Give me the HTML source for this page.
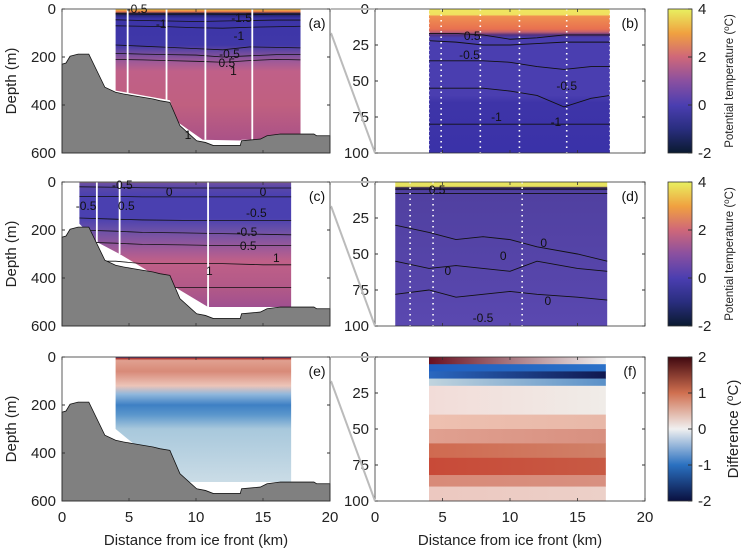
<!DOCTYPE html>
<html><head><meta charset="utf-8">
<style>
html,body{margin:0;padding:0;background:#fff;}
svg{display:block;font-family:"Liberation Sans",Arial,sans-serif;}
</style></head>
<body>
<svg id="fig" width="749" height="551" viewBox="0 0 749 551" xmlns="http://www.w3.org/2000/svg">
<defs>
<linearGradient id="cbT" x1="0" y1="1" x2="0" y2="0">
<stop offset="0" stop-color="#0a1a30"/><stop offset="0.17" stop-color="#2a2e80"/><stop offset="0.33" stop-color="#4a3eb0"/>
<stop offset="0.5" stop-color="#8a50a0"/><stop offset="0.67" stop-color="#d06878"/><stop offset="0.83" stop-color="#f0a040"/><stop offset="1" stop-color="#e8f060"/>
</linearGradient>
<linearGradient id="cbD" x1="0" y1="1" x2="0" y2="0">
<stop offset="0" stop-color="#0a1040"/><stop offset="0.25" stop-color="#2a70c0"/><stop offset="0.5" stop-color="#f0f0f0"/>
<stop offset="0.75" stop-color="#d07050"/><stop offset="1" stop-color="#400810"/>
</linearGradient>
</defs>
</svg>
<script>
// ---- data ----
const bathyKm = [0,0.3,0.6,1.2,2.0,3.2,4.0,4.6,5.3,6.8,7.3,8.05,8.8,10.05,10.7,11.3,13.3,13.4,14.8,15.3,16.3,18.8,19.0,20];
const bathyDepth = [230,225,197,188,188,326,347,354,361,375,382,389,486,549,556,569,569,549,542,528,521,521,528,528];
const profA = [[0,'#f0e060'],[6,'#f0a040'],[12,'#e07050'],[18,'#202040'],[28,'#2a2880'],[40,'#3c34a8'],[150,'#4038a8'],[180,'#6a4aa0'],[220,'#a05a98'],[260,'#c06088'],[400,'#c06080'],[560,'#a85088']];
const profC = [[0,'#d0d070'],[4,'#7050a0'],[20,'#5a48a8'],[60,'#4a40b0'],[150,'#4a40b0'],[200,'#6a50a8'],[280,'#a05a98'],[330,'#c06088'],[450,'#b05888'],[520,'#a05090']];
const profE = [[0,'#2040a0'],[6,'#b03028'],[14,'#e0a090'],[60,'#d88a78'],[120,'#ecc4b8'],[155,'#90b8dc'],[200,'#3e80c4'],[240,'#5a96cc'],[300,'#a8c8dc'],[520,'#cadce6']];
const profB = [[0,'#f0e860'],[4,'#f0e060'],[5,'#f09050'],[14,'#e87050'],[16,'#c06070'],[18,'#503080'],[20,'#4a3eb0'],[60,'#4a3eb0'],[65,'#3e34a8'],[100,'#3a32a8']];
const profD = [[0,'#e8e860'],[3,'#e8e060'],[4,'#302050'],[6,'#5040a0'],[100,'#5a48b0']];
const rowsF = [[0,5,'#6a1020','#f0f0f0'],[5,10,'#2060c0','#2a70c8'],[10,15,'#2a68c0','#101850'],[15,20,'#c0d4de','#5a90c8'],[20,40,'#f2dcd8','#f0ece8'],[40,50,'#eec0b0','#e8b8a8'],[50,60,'#e0a090','#d89080'],[60,70,'#d06a50','#d08068'],[70,82,'#c84a38','#c85a44'],[82,90,'#d88a78','#d89080'],[90,100,'#ecc8c0','#ecd0c8']];
const ticksKm = [0,5,10,15,20];
const ticksDepthL = [0,200,400,600];
const ticksDepthR = [0,25,50,75,100];
const castsA = [4.9,7.8,10.7,14.2];
const castsC = [2.6,4.3,10.9];
const contX = [4,6,8,10,12,14,16,17.8];
const contA = [[20,22,22,21,22,24,22,22],[45,48,50,52,50,48,46,46],[70,72,74,78,80,76,74,72],[150,155,160,165,170,158,160,162],[185,188,190,192,200,195,190,190],[210,212,215,218,222,215,210,212]];
const contXR = [4,6,8,10,12,14,16,17.4];
const contB = [[17,17,18,21,20,18,18,18],[22,23,25,25,24,23,23,23],[36,36,36,37,40,42,40,40],[55,55,55,57,60,68,62,60],[80,80,80,80,80,80,80,80]];
const contD = [[5,5,5,5,5,5,5,5],[8,8,8,8,8,8,8,8],[30,35,40,38,40,45,50,55],[55,60,58,60,62,55,60,62],[78,75,80,78,76,78,80,82]];

const NS='http://www.w3.org/2000/svg';
const svg=document.getElementById('fig');
const defs=svg.querySelector('defs');
function mk(tag,attrs,parent){const e=document.createElementNS(NS,tag);for(const k in attrs)e.setAttribute(k,attrs[k]);(parent||svg).appendChild(e);return e;}
const XL=km=>62+km*13.4, XR=km=>375+km*13.5;
const tops=[9,182,357], H=144;
const YL=(p,d)=>tops[p]+d/600*H, YR=(p,d)=>tops[p]+d/100*H;
const FS=15;

function vgrad(id,prof,p,Y){const g=mk('linearGradient',{id:id,gradientUnits:'userSpaceOnUse',x1:0,x2:0,y1:Y(p,0),y2:Y(p,prof[prof.length-1][0])},defs);
 const last=prof[prof.length-1][0];prof.forEach(s=>mk('stop',{offset:s[0]/last,'stop-color':s[1]},g));}
vgrad('gA',profA,0,YL);vgrad('gC',profC,1,YL);vgrad('gE',profE,2,YL);
vgrad('gB',profB,0,YR);vgrad('gD',profD,1,YR);

function bathyPath(p){let d='M'+XL(0)+','+YL(p,600);bathyKm.forEach((k,i)=>{d+=' L'+XL(k)+','+YL(p,bathyDepth[i]);});d+=' L'+XL(20)+','+YL(p,600)+' Z';return d;}

let a=mk('path',{d:`M${XL(4)},${YL(0,0)} L${XL(17.8)},${YL(0,0)} L${XL(17.8)},${YL(0,545)} L${XL(13.4)},${YL(0,545)} L${XL(13.3)},${YL(0,548)} L${XL(10.5)},${YL(0,545)} L${XL(8.6)},${YL(0,470)} L${XL(8.05)},${YL(0,380)} L${XL(4)},${YL(0,340)} Z`,fill:'url(#gA)'});

let c=mk('path',{d:`M${XL(1.3)},${YL(1,0)} L${XL(17.1)},${YL(1,0)} L${XL(17.1)},${YL(1,521)} L${XL(10.9)},${YL(1,521)} L${XL(4.3)},${YL(1,300)} L${XL(2.6)},${YL(1,250)} L${XL(1.3)},${YL(1,174)} Z`,fill:'url(#gC)'});

let e=mk('path',{d:`M${XL(4)},${YL(2,0)} L${XL(17.1)},${YL(2,0)} L${XL(17.1)},${YL(2,521)} L${XL(8.8)},${YL(2,521)} L${XL(4)},${YL(2,300)} Z`,fill:'url(#gE)'});


function poly(xs,ds,X,Y,p){return xs.map((x,i)=>(i?'L':'M')+X(x)+','+Y(p,ds[i])).join(' ');}
contA.forEach(ds=>{const l=mk('path',{d:poly(contX,ds,XL,YL,0),fill:'none',stroke:'#111','stroke-width':0.8});});
const contC=[[20,22,24,25,25,25,25],[60,60,62,62,62,62,62],[150,155,158,160,160,160,160],[200,205,210,212,215,218,220],[250,255,260,262,265,265,265],[330,330,340,340,340,345,345],[430,430,440,440,440,440,440]];
const cxC=[1.3,4,6,9,12,15,17.1];
contC.forEach(ds=>{const l=mk('path',{d:poly(cxC,ds,XL,YL,1),fill:'none',stroke:'#111','stroke-width':0.8});});

castsA.forEach(k=>{const l=mk('line',{x1:XL(k),x2:XL(k),y1:YL(0,0),y2:YL(0,545),stroke:'#fff','stroke-width':1.8});});
const cEnd=[250,300,521];
castsC.forEach((k,i)=>{const l=mk('line',{x1:XL(k),x2:XL(k),y1:YL(1,0),y2:YL(1,cEnd[i]),stroke:'#fff','stroke-width':1.8});});

[0,1,2].forEach(p=>{const b=mk('path',{d:bathyPath(p),fill:'#808080',stroke:'#111','stroke-width':0.8});});

let b=mk('rect',{x:XR(4),y:YR(0,0),width:XR(17.4)-XR(4),height:H,fill:'url(#gB)'});

contB.forEach(ds=>{const l=mk('path',{d:poly(contXR,ds,XR,YR,0),fill:'none',stroke:'#111','stroke-width':0.9});});
let d=mk('rect',{x:XR(1.5),y:YR(1,0),width:XR(17.2)-XR(1.5),height:H,fill:'url(#gD)'});

const cxD=[1.5,4,6,8,10,12,15,17.2];
contD.forEach(ds=>{const l=mk('path',{d:poly(cxD,ds,XR,YR,1),fill:'none',stroke:'#111','stroke-width':0.9});});
rowsF.forEach((r,i)=>{const g=mk('linearGradient',{id:'gf'+i,x1:0,x2:1,y1:0,y2:0},defs);
 mk('stop',{offset:0,'stop-color':r[2]},g);mk('stop',{offset:1,'stop-color':r[3]},g);
 const rr=mk('rect',{x:XR(4),y:YR(2,r[0]),width:XR(17.1)-XR(4),height:YR(2,r[1])-YR(2,r[0])+0.3,fill:'url(#gf'+i+')'});
 });
castsA.forEach(k=>{const l=mk('line',{x1:XR(k),x2:XR(k),y1:YR(0,0),y2:YR(0,100),stroke:'#fff','stroke-width':1.6,'stroke-dasharray':'1.5,4'});});
[XR(4),XR(17.4)].forEach(x=>mk('line',{x1:x,x2:x,y1:YR(0,0),y2:YR(0,100),stroke:'#fff','stroke-width':1,'stroke-dasharray':'1.5,3'}));
castsC.forEach(k=>{const l=mk('line',{x1:XR(k),x2:XR(k),y1:YR(1,0),y2:YR(1,100),stroke:'#fff','stroke-width':1.6,'stroke-dasharray':'1.5,4'});});

const labs=[[0,XL(5.6),13,'-0.5'],[0,XL(7.4),28,'-1'],[0,XL(13.4),22,'-1.5'],[0,XL(13.2),40,'-1'],[0,XL(12.5),58,'-0.5'],[0,XL(12.3),67,'0.5'],[0,XL(12.8),75,'1'],[0,XL(9.4),139,'1'],
 [1,XL(4.5),189,'-0.5'],[1,XL(8),196,'0'],[1,XL(15),196,'0'],[1,XL(1.8),210,'-0.5'],[1,XL(4.8),210,'0.5'],[1,XL(14.5),217,'-0.5'],[1,XL(13.8),236,'-0.5'],[1,XL(13.9),250,'0.5'],[1,XL(16),262,'1'],[1,XL(11),275,'1'],
 [0,XR(7.2),40,'0.5'],[0,XR(7),59,'-0.5'],[0,XR(14.2),90,'-0.5'],[0,XR(9),121,'-1'],[0,XR(13.4),126,'-1'],
 [1,XR(4.6),194,'0.5'],[1,XR(12.5),247,'0'],[1,XR(9.5),260,'0'],[1,XR(5.4),275,'0'],[1,XR(12.8),305,'0'],[1,XR(8),322,'-0.5']];
labs.forEach(l=>{const t=mk('text',{x:l[1],y:l[2],'font-size':12,fill:'#111','text-anchor':'middle'});t.textContent=l[3];});

const tags=[['(a)','(b)'],['(c)','(d)'],['(e)','(f)']];
for(let p=0;p<3;p++){
 const t=tops[p];
 const ax=mk('rect',{x:62,y:t,width:268,height:H,fill:'none',stroke:'#333','stroke-width':0.8});
 
 const ax2=mk('rect',{x:375,y:t,width:270,height:H,fill:'none',stroke:'#333','stroke-width':0.8});
 
 ticksKm.forEach(k=>{[XL,XR].forEach(X=>{mk('line',{x1:X(k),x2:X(k),y1:t,y2:t+3,stroke:'#333','stroke-width':0.8});mk('line',{x1:X(k),x2:X(k),y1:t+H,y2:t+H-3,stroke:'#333','stroke-width':0.8});});});
 ticksDepthL.forEach(dd=>{const y=YL(p,dd);mk('line',{x1:62,x2:65,y1:y,y2:y,stroke:'#333'});mk('line',{x1:330,x2:327,y1:y,y2:y,stroke:'#333'});
  const tx=mk('text',{x:56,y:y+5,'font-size':FS,fill:'#222','text-anchor':'end'});tx.textContent=dd;});
 ticksDepthR.forEach(dd=>{const y=YR(p,dd);mk('line',{x1:375,x2:378,y1:y,y2:y,stroke:'#333'});mk('line',{x1:645,x2:642,y1:y,y2:y,stroke:'#333'});
  const tx=mk('text',{x:369,y:y+5,'font-size':FS,fill:'#222','text-anchor':'end'});tx.textContent=dd;});
 const yt=mk('text',{x:0,y:0,'font-size':FS,fill:'#222','text-anchor':'middle',transform:`translate(16,${t+H/2}) rotate(-90)`});yt.textContent='Depth (m)';
 
 const la=mk('text',{x:317,y:t+19,'font-size':14,fill:'#111','text-anchor':'middle'});la.textContent=tags[p][0];
 const lb=mk('text',{x:630,y:t+19,'font-size':14,fill:'#111','text-anchor':'middle'});lb.textContent=tags[p][1];
 const z1=mk('line',{x1:331,y1:t,x2:375,y2:t,stroke:'#bbb','stroke-width':2});
 const z2=mk('line',{x1:331,y1:YL(p,100),x2:375,y2:t+H,stroke:'#bbb','stroke-width':2});
 const cb=mk('rect',{x:668,y:t,width:24,height:H,fill:p<2?'url(#cbT)':'url(#cbD)',stroke:'#333','stroke-width':0.8});
 
 const cl=p<2?['4','2','0','-2']:['2','1','0','-1','-2'];
 cl.forEach((s,i)=>{const y=t+i*H/(cl.length-1);mk('line',{x1:688,x2:692,y1:y,y2:y,stroke:'#333'});
  const tx=mk('text',{x:698,y:y+5,'font-size':FS,fill:'#222'});tx.textContent=s;});
 const ct=mk('text',{x:0,y:0,'font-size':p<2?11.5:15,fill:'#222','text-anchor':'middle',transform:`translate(${p<2?733:738},${t+H/2}) rotate(-90)`});
 ct.innerHTML=p<2?'Potential temperature (<tspan dy="-4" font-size="8">o</tspan><tspan dy="4">C)</tspan>':'Difference (<tspan dy="-5" font-size="10">o</tspan><tspan dy="5">C)</tspan>';
 
}
ticksKm.forEach(k=>{[XL,XR].forEach(X=>{const tx=mk('text',{x:X(k),y:522,'font-size':FS,fill:'#222','text-anchor':'middle'});tx.textContent=k;});});
[XL(10),XR(10)].forEach(x=>{const tx=mk('text',{x:x,y:545,'font-size':FS,fill:'#222','text-anchor':'middle'});tx.textContent='Distance from ice front (km)';});
</script>
</body></html>
